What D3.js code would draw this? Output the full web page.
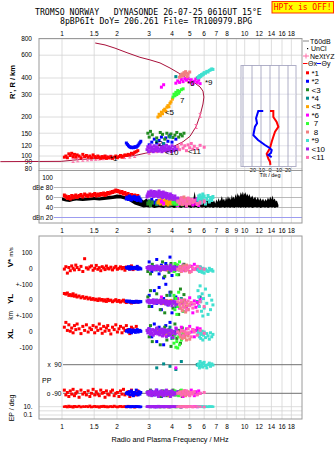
<!DOCTYPE html>
<html>
<head>
<meta charset="utf-8">
<script src="https://cdn.jsdelivr.net/npm/d3@7"></script>
<style>
  body { margin: 0; background: #fff; }
  text { font-family: "Liberation Sans", Arial, sans-serif; }
  .mono { font-family: "DejaVu Sans Mono", monospace; white-space: pre; }
</style>
</head>
<body>
<svg id="viz" width="335" height="451"></svg>
<script>
const freqGrid = [1, 1.5, 2, 3, 4, 5, 6, 7, 8, 9, 10, 12, 14, 16, 18];
const freqLabelsTop = [1, 1.5, 2, 3, 4, 5, 6, 7, 8, 10, 12, 14, 16, 18];
const freqLabelsMid = [1, 1.5, 2, 3, 4, 5, 6, 7, 8, 9, 10, 12, 14, 16, 18];
const heightTicks = [80, 90, 100, 120, 150, 200, 300, 400, 600, 800];
const dbTicks = [40, 60, 80, 100];
const dbTickText = ["40", "60", "dBe 80", "100"];
const tiltTicks = [-20, -10, 0, 10, 20];
const tiltGrid = [-30, -20, -10, 0, 10, 20];

// legende
const legNames = ["*1", "*2", "<3", "*4", "<5", "*6", " 7", " 8", "*9", "<10", "<11"];
const legColors = ["#ff0000", "#0000ff", "#228b22", "#008b8b", "#ffa500", "#ff00ff",
                   "#33ff33", "#f08080", "#40e0d0", "#a020f0", "#ff69b4"];

// *1 rouge
const s1F = [1.03,1.05,1.07,1.09,1.11,1.13,1.15,1.17,1.19,1.21,1.24,1.27,1.30,1.33,1.36,1.39,1.42,1.45,1.48,1.51,1.54,1.57,1.60,1.63,1.66,1.69,1.72,1.75,1.78,1.81,1.85,1.89,1.93,1.97,2.01,2.05,2.09,2.13,2.17,2.21,2.25,2.30,2.35,2.40,2.45,2.50,2.55,2.60];
const s1H = [98,100,97,104,101,105,99,103,98,102,100,97,103,99,101,98,100,97,102,99,97,100,98,96,99,97,100,96,98,97,99,96,98,100,97,99,101,98,100,102,101,103,102,105,104,107,108,110];
const s1DB = [64,62,59,61,58,63,60,62,64,61,63,65,62,66,64,63,66,64,65,67,64,66,65,67,66,68,65,67,69,68,70,71,72,74,73,72,70,71,68,69,66,67,64,65,63,64,62,63];
const s1V = [-5,10,-30,5,-15,15,0,-10,20,5,-8,12,-20,60,3,-5,8,15,-12,0,18,-6,4,-15,10,2,-8,14,0,-4,7,-10,3,12,-6,0,9,-3,5,-12,8,0,-5,15,-8,4,-2,6];
const s1YL = [42,38,45,30,35,28,40,25,32,20,26,15,22,12,18,8,14,5,10,2,6,-2,8,0,4,-5,2,-8,5,-3,0,-10,-4,3,-8,-2,-12,-6,0,-10,-15,-8,-12,-18,-10,-14,-8,-12];
const s1XL = [30,60,10,45,5,25,-5,40,15,50,20,-10,35,10,45,0,25,15,40,-5,30,10,50,20,-8,35,5,25,40,10,-12,30,15,45,0,20,35,-5,25,10,40,15,-10,30,20,5,35,10];
const s1PP = [-70,-100,-85,-110,-75,-95,-65,-105,-90,-80,-115,-70,-95,-85,-100,-75,-110,-90,-65,-100,-80,-95,-105,-70,-90,-85,-115,-75,-95,-100,-80,-70,-105,-90,-85,-110,-75,-95,-65,-100,-90,-80,-110,-70,-95,-85,-100,-75];
const s1EP = [10,12,8,15,9,11,7,13,10,9,14,8,11,10,12,9,16,8,10,13,9,11,7,12,10,14,9,11,8,10,12,9,15,10,8,11,13,9,10,12,8,14,10,9,11,7,12,10];

// *2 bleu
const s2F = [2.25,2.28,2.31,2.34,2.37,2.40,2.43,2.46,2.49,2.52,2.55,2.58,2.61,2.64,2.67,2.70,3.0,3.1,3.2,3.3,3.4,3.5,3.6,3.7,3.8,3.9,4.0,4.2];
const s2H = [126,123,120,118,117,116,117,116,117,118,117,119,121,124,127,130,122,128,135,126,132,140,124,138,130,145,128,135];
const s2DB = [58,60,57,62,59,56,60,58,61,57,59,55,58,60,56,54,52,55,50,53,48,56,51,54,49,52,50,47];
const s2V = [5,0,10,-5,8,2,-3,6,0,4,-2,12,-6,3,0,-4,40,-20,10,55,-35,20,-60,30,-10,70,-45,15];
const s2YL = [-5,-8,-10,-6,-12,-8,-10,-14,-9,-12,-7,-10,-13,-8,-11,-9,30,-40,60,-20,80,-60,10,100,-30,50,-80,20];
const s2XL = [5,10,0,15,8,-5,12,3,10,-2,8,15,0,6,10,4,20,-30,50,-60,30,10,-80,40,-20,60,-40,0];
const s2PP = [-90,-85,-95,-80,-100,-75,-90,-105,-85,-95,-70,-90,-100,-80,-95,-85,-90,-80,-100,-70,-95,-110,-85,-75,-90,-105,-80,-95];
const s2EP = [10,9,11,10,8,12,10,9,11,10,12,9,10,11,8,10,10,9,12,8,11,10,9,13,10,8,11,10];

// <3 vert fonce
const s3F = [2.95,3.0,3.05,3.12,3.3,3.45,3.55,3.65,3.75,3.85,3.95,4.05,4.15,4.25,4.35,4.45,4.55,4.65];
const s3H = [150,140,155,146,138,152,147,135,150,142,148,139,145,152,140,147,143,150];
const s3DB = [48,52,45,50,47,53,49,46,51,48,54,47,50,45,49,52,46,50];
const s3V = [-20,10,-35,25,5,-10,40,-50,15,-25,30,0,-15,20,-40,10,-5,25];
const s3YL = [20,-40,60,-10,40,-60,0,-80,30,-20,50,-50,10,-30,-90,70,-15,35];
const s3XL = [10,-30,40,-60,20,-80,0,30,-50,15,-90,-20,50,-40,10,-70,25,-10];
const s3PP = [-80,-100,-70,-95,-85,-110,-75,-90,-105,-80,-95,-70,-100,-85,-90,-75,-110,-95];
const s3EP = [10,11,9,12,10,8,11,10,13,9,10,12,9,11,10,8,10,12];

// *4 sarcelle
const s4F = [3.3,3.6,3.9,4.2,4.5,5.5,5.7];
const s4H = [130,125,140,410,420,400,415];
const s4DB = [48,50,46,52,49,55,53];
const s4V = [-10,5,-15,10,0,-5,8];
const s4YL = [0,-20,30,-40,10,-10,20];
const s4XL = [20,-10,30,0,-20,10,-5];
const s4PP = [70,95,80,60,110,90,85];
const s4EP = [10,9,11,10,8,10,11];

// <5 orange
const s5F = [3.35,3.4,3.45,3.5,3.55,3.6,3.65,3.7,3.75,3.8,3.85,3.9,3.95,4.02];
const s5H = [200,210,205,218,212,225,230,222,238,245,240,255,262,275];
const s5DB = [50,53,48,55,51,47,54,49,52,46,50,53,48,51];
const s5V = [5,-5,0,10,-8,3,-2,6,-10,4,0,-6,8,-3];
const s5YL = [-10,-5,-15,0,-20,-8,-12,-3,-18,-6,-10,-14,-2,-9];
const s5XL = [5,-10,0,12,-5,8,-15,3,10,-8,0,6,-12,4];
const s5PP = [-90,-85,-95,-80,-100,-90,-85,-95,-75,-90,-105,-85,-90,-95];
const s5EP = [10,9,11,10,12,9,10,11,10,8,10,11,9,10];

// *6 magenta
const s6F = [3.5,3.6,4.2,4.3,4.4,4.5,4.6,4.7,4.8,4.9,5.0,5.1,5.2,5.3,5.4,5.5,5.6,5.7];
const s6H = [340,355,365,380,370,390,375,395,385,400,372,388,360,378,392,370,385,362];
const s6DB = [52,48,55,45,50,58,47,53,44,56,49,51,46,54,48,57,45,50];
const s6V = [0,10,-5,15,-10,5,20,-15,0,8,-20,12,-6,25,-3,10,-12,5];
const s6YL = [20,-10,-30,10,-50,-20,-70,0,-40,-60,15,-25,-80,-5,-45,-15,-35,5];
const s6XL = [10,-20,25,0,-15,30,5,-25,20,-10,35,0,15,-30,10,25,-5,20];
const s6PP = [-80,-95,70,-100,-85,-90,-110,-75,-95,-85,-100,-70,-90,-105,-80,-95,-75,-90];
const s6EP = [10,11,9,10,12,8,10,11,9,10,12,10,9,11,10,8,11,10];

// 7 vert clair
const s7F = [4.05,4.1,4.15,4.2,4.25,4.3,4.35,4.4,4.5,4.6];
const s7H = [285,300,292,310,298,320,305,315,325,330];
const s7DB = [50,54,48,56,52,47,55,50,53,49];
const s7V = [10,-20,30,0,-40,20,-10,40,-5,15];
const s7YL = [-20,30,-60,10,-90,-40,50,-30,0,-70];
const s7XL = [-40,-70,-20,-95,-60,-100,-30,-80,-50,-10];
const s7PP = [-85,-95,-75,-100,-90,-80,-105,-90,-70,-95];
const s7EP = [10,9,11,10,8,10,12,9,10,11];

// 8 saumon
const s8F = [4.4,4.45,4.5,4.55,4.6,4.65,4.7,4.75,4.8,4.85,4.9,5.0];
const s8H = [405,420,412,430,418,440,425,448,435,410,428,445];
const s8DB = [55,50,58,47,53,60,49,56,45,52,57,48];
const s8V = [-10,5,-20,10,-5,15,0,-15,20,-8,3,-25];
const s8YL = [-20,-50,-10,-65,-30,0,-45,-75,-15,-35,-60,-25];
const s8XL = [-10,-30,5,-40,-20,0,-35,-15,-50,-5,-25,-45];
const s8PP = [-90,-80,-100,-85,-95,-75,-90,-105,-85,-95,-80,-90];
const s8EP = [10,9,11,10,12,9,10,11,8,10,12,10];

// *9 turquoise
const s9F = [5.55,5.6,5.65,5.7,5.75,5.8,5.85,5.9,5.95,6.0,6.1,6.2,6.3,6.4,6.5,6.6,6.7];
const s9H = [400,410,405,418,412,425,420,430,428,440,436,450,445,458,462,470,466];
const s9DB = [56,62,52,64,58,50,60,66,54,62,48,57,63,52,59,55,61];
const s9V = [-10,0,-20,5,-15,-5,-25,0,-10,-30,-5,-15,-20,0,-12,-8,-18];
const s9YL = [60,20,-40,90,-10,-70,40,-100,10,-50,70,-20,-90,30,-60,0,-30];
const s9XL = [-10,0,-30,-5,-40,-15,5,-50,-20,0,-35,-10,-25,-45,-5,-30,-15];
const s9PP = [85,95,70,110,90,80,100,75,95,105,85,70,90,100,80,95,88];
const s9EP = [10,11,9,10,12,10,9,11,10,8,11,10,9,12,10,11,10];

// <10 violet
const s10F = [2.92,2.95,2.98,3.01,3.04,3.07,3.10,3.13,3.16,3.19,3.22,3.25,3.28,3.31,3.34,3.37,3.40,3.43,3.46,3.49,3.52,3.55,3.58,3.61,3.64,3.67,3.70,3.73,3.76,3.80,3.84,3.88,3.92,3.96,4.00,4.05,4.10,4.15,4.22,4.30];
const s10H = [112,118,108,115,121,110,117,113,108,120,114,110,118,112,116,109,122,113,111,117,108,115,119,112,110,116,113,121,109,114,118,111,115,108,120,113,110,117,112,115];
const s10DB = [62,66,70,64,68,72,65,69,63,71,67,64,70,66,68,62,72,65,69,64,67,61,70,66,63,68,65,60,67,62,64,58,66,61,63,57,60,62,56,58];
const s10V = [5,-3,10,0,-8,12,3,-5,8,-10,2,6,-4,15,0,-7,9,4,-12,6,1,-6,10,-2,5,-9,3,12,-4,0,8,-5,20,-15,6,-3,10,-8,2,5];
const s10YL = [-5,-12,0,-18,-8,-3,-15,-10,2,-20,-6,-12,-1,-16,-9,-4,-14,-11,0,-22,-7,-13,-2,-17,-8,-10,-25,-5,-12,-15,-30,-8,-20,-12,-35,-6,-18,-10,-25,-14];
const s10XL = [10,-5,20,0,-15,8,-8,15,-20,5,-10,12,-3,25,-12,0,10,-18,6,-6,18,-25,3,-10,14,-4,8,-30,0,12,-15,5,-20,10,-8,-35,4,-12,20,-5];
const s10PP = [-85,-95,-80,-100,-90,-75,-105,-85,-95,-90,-80,-100,-70,-95,-85,-110,-90,-80,-95,-75,-100,-85,-90,-105,-80,-95,-90,-70,-100,-85,-95,-80,-110,-90,-75,-100,-85,-95,-90,-80];
const s10EP = [10,12,9,11,8,10,13,9,11,10,7,12,10,9,11,14,10,8,12,10,9,11,10,13,8,10,12,9,11,10,8,12,10,9,11,10,13,9,10,11];

// <11 rose
const s11F = [4.3,4.4,4.5,4.6,4.7,4.8,4.9,5.0,5.1,5.2,5.3,5.5,5.7,6.0];
const s11H = [118,112,124,115,120,110,122,116,125,113,119,114,121,117];
const s11DB = [52,48,56,50,54,46,58,49,55,51,53,47,50,52];
const s11V = [-5,10,-15,0,8,-10,5,15,-20,3,-8,12,0,-5];
const s11YL = [-10,-30,0,-45,-20,-60,-5,-35,-15,-50,-25,-70,-10,-40];
const s11XL = [0,-15,10,-25,5,-10,20,-5,-30,15,0,-20,10,-8];
const s11PP = [-90,-85,-100,-80,-95,-75,-90,-105,-85,-95,-80,-100,-90,-85];
const s11EP = [10,11,9,10,12,10,9,11,10,8,10,11,10,9];

// profil N(h) (rouge fonce)
const profF = [0.46,0.99,1.25,1.61,2.08,2.51,2.85,3.23,3.66,4.15,4.60,5.02,5.42,5.70,5.91,5.98,5.91,5.70,5.35,4.90,4.42,3.90,3.44,3.03,2.67,2.27,1.95,1.72,1.52];
const profH = [90.5,91,94,96,98,101,105,109,113,120,129,142,169,206,252,285,317,341,365,394,431,478,523,552,578,627,680,720,745];

// points NeXtYZ (rose)
const nexF = [1.15,1.22,1.30,1.38,1.45,1.53,1.60,1.68,1.76,1.85,2.2,2.35,2.5,3.0,3.3,3.6,5.42,5.7];
const nexH = [92.5,93.5,94.5,95,95.5,96,96.5,97,97.5,98,99,100,101,107,110,112,169,206];

// etiquettes noires
const tagText = ["*1", "*2", "<5", "7", "*6", "*9", "<10", "<11"];
const tagF = [1.83, 3.23, 3.66, 4.42, 4.83, 6.06, 3.66, 4.89];
const tagH = [96.6, 125, 220, 270, 364, 372, 108, 110];

// bruit dB (noir)
const noiseF = [1.0,1.05,1.1,1.15,1.2,1.3,1.4,1.5,1.6,1.7,1.8,1.9,2.0,2.1,2.2,2.3,2.4,2.5,2.6,2.7,2.8,2.9,3.0,3.1,3.2,3.3,3.4,3.5,3.6,3.7,3.8,3.9,4.0,4.1,4.2,4.3,4.4,4.5,4.6,4.7,4.8,4.9,5.0,5.1,5.2,5.25,5.32,5.4,5.5,5.6,5.7,5.8,5.9,6.0,6.1,6.2,6.3,6.4,6.5,6.6,6.7,6.8,6.9,7.0,7.1,7.2,7.3,7.4,7.5,7.6,7.7,7.8,7.9,8.0,8.1,8.2,8.3,8.4,8.5,8.6,8.7,8.8,8.9,9.0,9.1,9.2,9.3,9.4,9.5,9.6,9.7,9.8,9.9,10.0,10.1,10.2,10.3,10.5,10.6,10.8,11.0,11.2,11.4,11.6,11.8,12.0,12.2,12.4,12.6,12.8,13.0,13.2,13.4,13.6,13.8,14.0,14.2,14.4,14.6,14.8,15.0,15.2,15.3];
const noiseHi = [60,58,57,59,58,60,59,61,60,62,63,64,66,65,63,62,60,58,60,57,54,58,52,56,50,55,51,57,49,56,52,55,50,57,51,54,49,56,50,55,52,57,52,56,50,60,72,57,52,58,51,60,53,57,50,58,52,55,49,57,51,54,48,56,51,59,52,56,63,54,58,52,61,55,63,57,60,55,65,58,62,57,67,60,69,63,66,61,71,65,72,64,70,66,71,63,68,62,67,59,64,57,62,55,61,54,59,53,58,52,57,53,60,55,62,56,64,55,58,52,54,48,45];
const noiseLo = [54,52,51,53,54,53,54,55,54,55,56,57,58,58,56,54,50,46,44,42,40,41,40,41,39,40,41,40,39,41,40,40,41,39,40,41,40,39,41,40,40,41,40,39,41,40,40,41,40,39,41,40,40,41,39,40,41,40,40,41,39,40,41,40,40,41,39,40,40,41,40,39,41,40,40,41,39,40,41,40,40,39,41,40,41,40,40,41,39,40,41,40,40,41,39,40,41,40,40,41,39,40,41,40,40,41,39,40,41,40,40,41,39,40,41,40,40,41,39,40,41,40,42];

// inclinaison (Tilt) : theta x rouge, theta y bleu
const tiltXH = [222.6,222.6,200,183,168,154,141,129,115,104,95.5,90.5,85.3];
const tiltXA = [0,3.7,3.7,7.4,9.3,5.6,3.7,1.9,0,-3.7,-1.9,0,0.5];
const tiltYH = [222.6,222.6,195.6,179,168.4,154,145,133,121.6,114.8,111.3,105.5,101.9,98.1];
const tiltYA = [-7.5,-13,-15.5,-14.4,-16.7,-17.8,-18.5,-13.3,-5.6,0,1.9,1.1,-1.9,1.9];

/////////////////////////////////////////////////////////

const clusters = [
  {f: s1F, h: s1H, db: s1DB, v: s1V, yl: s1YL, xl: s1XL, pp: s1PP, ep: s1EP},
  {f: s2F, h: s2H, db: s2DB, v: s2V, yl: s2YL, xl: s2XL, pp: s2PP, ep: s2EP},
  {f: s3F, h: s3H, db: s3DB, v: s3V, yl: s3YL, xl: s3XL, pp: s3PP, ep: s3EP},
  {f: s4F, h: s4H, db: s4DB, v: s4V, yl: s4YL, xl: s4XL, pp: s4PP, ep: s4EP},
  {f: s5F, h: s5H, db: s5DB, v: s5V, yl: s5YL, xl: s5XL, pp: s5PP, ep: s5EP},
  {f: s6F, h: s6H, db: s6DB, v: s6V, yl: s6YL, xl: s6XL, pp: s6PP, ep: s6EP},
  {f: s7F, h: s7H, db: s7DB, v: s7V, yl: s7YL, xl: s7XL, pp: s7PP, ep: s7EP},
  {f: s8F, h: s8H, db: s8DB, v: s8V, yl: s8YL, xl: s8XL, pp: s8PP, ep: s8EP},
  {f: s9F, h: s9H, db: s9DB, v: s9V, yl: s9YL, xl: s9XL, pp: s9PP, ep: s9EP},
  {f: s10F, h: s10H, db: s10DB, v: s10V, yl: s10YL, xl: s10XL, pp: s10PP, ep: s10EP},
  {f: s11F, h: s11H, db: s11DB, v: s11V, yl: s11YL, xl: s11XL, pp: s11PP, ep: s11EP}
];
clusters.forEach((c, i) => c.color = legColors[i]);

// cadres des panneaux
const L = 39, R = 302;
const ion = {top: 38.5, bottom: 170.5};
const dbp = {top: 170.5, bottom: 223};
const low = {top: 236, bottom: 419};

// echelles
const x = d3.scaleLog().domain([1, 10]).range([62, 244.7]);
const yH = d3.scaleLog().domain([80, 800]).range([168.6, 39]);
const yDB = d3.scaleLinear().domain([20, 100]).range([217.5, 177.5]);
const yV = d3.scaleLinear().domain([-100, 100]).range([284.3, 252.3]);
const yYL = d3.scaleLinear().domain([-100, 100]).range([316, 284.3]);
const yXL = d3.scaleLinear().domain([-100, 100]).range([348, 316]);
const yPP = d3.scaleLinear().domain([-90, 90]).range([393.3, 364.7]);
const yEP = d3.scaleLog().domain([0.1, 10]).range([415, 406.7]);
const xT = d3.scaleLinear().domain([-10, 10]).range([261, 279]);

const svg = d3.select("#viz");
const gridCol = "#d4d4d4", frameCol = "#9a9a9a";

// ---- titre ----
svg.append("text").attr("class", "mono").attr("x", 35).attr("y", 15)
  .style("font-size", "8.2px").text("TROMSO NORWAY   DYNASONDE 26-07-25 0616UT 15°E");
svg.append("text").attr("class", "mono").attr("x", 60).attr("y", 23.5)
  .style("font-size", "8.2px").text("8pBP6It DoY= 206.261 File= TR100979.BPG");
svg.append("rect").attr("x", 272).attr("y", 1.5).attr("width", 61.5).attr("height", 11.5)
  .attr("fill", "#ffff00").attr("stroke", "#ff3300").attr("stroke-width", 1);
svg.append("text").attr("class", "mono").attr("x", 302.7).attr("y", 10.3)
  .attr("text-anchor", "middle").attr("fill", "#ff0000").style("font-size", "8px")
  .text("HPTx is OFF!");

// ---- grilles verticales ----
[ion, dbp, low].forEach(p => {
  svg.append("g").selectAll("line").data(freqGrid).join("line")
    .attr("x1", d => x(d)).attr("x2", d => x(d))
    .attr("y1", p.top).attr("y2", p.bottom)
    .attr("stroke", gridCol).attr("stroke-width", 0.8);
});

// labels de frequence
function freqLabels(list, y) {
  svg.append("g").selectAll("text").data(list).join("text")
    .attr("x", d => x(d)).attr("y", y).attr("text-anchor", "middle")
    .style("font-size", "6.5px").text(d => d);
}
freqLabels(freqLabelsTop, 35.5);
freqLabels(freqLabelsMid, 233.3);
freqLabels(freqLabelsTop, 429.3);

svg.append("text").attr("x", 170).attr("y", 442).attr("text-anchor", "middle")
  .style("font-size", "7.3px").text("Radio and Plasma Frequency / MHz");

// ---- ionogramme ----
svg.append("g").selectAll("line").data(heightTicks).join("line")
  .attr("x1", L).attr("x2", R).attr("y1", d => yH(d)).attr("y2", d => yH(d))
  .attr("stroke", gridCol).attr("stroke-width", 0.8);
svg.append("g").selectAll("text").data(heightTicks).join("text")
  .attr("x", 32).attr("y", d => yH(d) + 2.3).attr("text-anchor", "end")
  .style("font-size", "6.5px").text(d => d);
svg.append("text").attr("transform", "translate(15,82) rotate(-90)")
  .attr("text-anchor", "middle").style("font-size", "7.5px").style("font-weight", "bold")
  .text("R', R / km");

// encart Tilt
const tiltTop = 65.5, tiltBot = 166.5;
svg.append("rect").attr("x", 241).attr("y", tiltTop).attr("width", 55).attr("height", tiltBot - tiltTop)
  .attr("fill", "#fff").attr("stroke", "#b0b0c8").attr("stroke-width", 1);
svg.append("g").selectAll("line").data(heightTicks.filter(h => yH(h) > tiltTop && yH(h) < tiltBot)).join("line")
  .attr("x1", 241).attr("x2", 296).attr("y1", d => yH(d)).attr("y2", d => yH(d))
  .attr("stroke", "#dcdce6").attr("stroke-width", 0.8);
svg.append("g").selectAll("line").data(tiltGrid).join("line")
  .attr("x1", d => xT(d)).attr("x2", d => xT(d)).attr("y1", tiltTop).attr("y2", tiltBot)
  .attr("stroke", "#9a9ab8").attr("stroke-width", 0.8);
svg.append("g").selectAll("text").data(tiltTicks).join("text")
  .attr("x", d => xT(d)).attr("y", 171.5).attr("text-anchor", "middle")
  .style("font-size", "5.5px").text(d => d);
svg.append("text").attr("x", 270).attr("y", 177).attr("text-anchor", "middle")
  .style("font-size", "5.5px").text("Tilt / deg");

const tiltLine = d3.line().x(d => xT(d[1])).y(d => yH(d[0]));
svg.append("path").datum(d3.zip(tiltXH, tiltXA)).attr("d", tiltLine)
  .attr("fill", "none").attr("stroke", "#ff0000").attr("stroke-width", 2);
svg.append("path").datum(d3.zip(tiltYH, tiltYA)).attr("d", tiltLine)
  .attr("fill", "none").attr("stroke", "#0000ff").attr("stroke-width", 2);

// profil
const profLine = d3.line().x(d => x(d[0])).y(d => yH(d[1]));
svg.append("path").datum(d3.zip(profF, profH)).attr("d", profLine)
  .attr("fill", "none").attr("stroke", "#a8103a").attr("stroke-width", 1);

// NeXtYZ
svg.append("g").selectAll("path").data(d3.zip(nexF, nexH)).join("path")
  .attr("d", d => { const px = x(d[0]), py = yH(d[1]);
    return `M${px - 1.5},${py - 2}H${px + 1.5}M${px},${py - 2}V${py + 2}M${px - 1.5},${py + 2}H${px + 1.5}`; })
  .attr("stroke", "#ff6fa8").attr("stroke-width", 1).attr("fill", "none");

// echos
function squares(key, yScale, w, h) {
  clusters.forEach(c => {
    svg.append("g").selectAll("rect").data(d3.zip(c.f, c[key])).join("rect")
      .attr("x", d => x(d[0]) - w / 2).attr("y", d => yScale(d[1]) - h / 2)
      .attr("width", w).attr("height", h).attr("fill", c.color);
  });
}
squares("h", yH, 3, 3);

svg.append("g").selectAll("text").data(d3.range(tagText.length)).join("text")
  .attr("x", i => x(tagF[i])).attr("y", i => yH(tagH[i]) + 3)
  .style("font-size", "8px").attr("fill", "#000").text(i => tagText[i]);

svg.append("rect").attr("x", L).attr("y", ion.top).attr("width", R - L).attr("height", ion.bottom - ion.top)
  .attr("fill", "none").attr("stroke", frameCol).attr("stroke-width", 1);

// ---- panneau dB ----
svg.append("g").selectAll("line").data(dbTicks.filter(d => d < 100)).join("line")
  .attr("x1", 54).attr("x2", R).attr("y1", d => yDB(d)).attr("y2", d => yDB(d))
  .attr("stroke", "#a8a8a8").attr("stroke-width", 0.8);
svg.append("line").attr("x1", 54).attr("x2", R).attr("y1", yDB(20)).attr("y2", yDB(20))
  .attr("stroke", "#9c9cf0").attr("stroke-width", 1);
svg.append("g").selectAll("text").data(dbTicks).join("text")
  .attr("x", 53).attr("y", d => yDB(d) + 2.3).attr("text-anchor", "end")
  .style("font-size", "6.5px").style("white-space", "pre")
  .text((d, i) => dbTickText[i]);
svg.append("text").attr("x", 53).attr("y", yDB(20) + 2.3).attr("text-anchor", "end")
  .style("font-size", "6.5px").text("dBn 20");

const noiseArea = d3.area().x(d => x(d[0])).y0(d => yDB(d[2])).y1(d => yDB(d[1]));
svg.append("path").datum(d3.zip(noiseF, noiseHi, noiseLo)).attr("d", noiseArea)
  .attr("fill", "#000");
squares("db", yDB, 3, 4);

svg.append("rect").attr("x", L).attr("y", dbp.top).attr("width", R - L).attr("height", dbp.bottom - dbp.top)
  .attr("fill", "none").attr("stroke", frameCol).attr("stroke-width", 1);

// ---- panneau bas ----
svg.append("line").attr("x1", 63).attr("x2", R).attr("y1", yPP(90)).attr("y2", yPP(90))
  .attr("stroke", "#707070").attr("stroke-width", 1);
svg.append("line").attr("x1", 63).attr("x2", R).attr("y1", yPP(-90)).attr("y2", yPP(-90))
  .attr("stroke", "#707070").attr("stroke-width", 1);
svg.append("g").selectAll("line").data([10, 1, 0.1]).join("line")
  .attr("x1", L).attr("x2", R).attr("y1", d => yEP(d)).attr("y2", d => yEP(d))
  .attr("stroke", gridCol).attr("stroke-width", 0.8);

const lowLabels = [[yV(100), "100"], [yV(0), "0"], [yV(-100), "+-100"], [yYL(0), "0"],
                   [yYL(-100), "+-100"], [yXL(0), "0"], [yXL(-100), "-100"],
                   [yEP(10), "10."], [yEP(0.1), "0.1"]];
svg.append("g").selectAll("text").data(lowLabels).join("text")
  .attr("x", 32.5).attr("y", d => d[0] + 2.3).attr("text-anchor", "end")
  .style("font-size", "6.5px").text(d => d[1]);
svg.append("text").attr("x", 61.5).attr("y", yPP(90) + 2.3).attr("text-anchor", "end")
  .style("font-size", "6.5px").style("white-space", "pre").text("x  90");
svg.append("text").attr("x", 61.5).attr("y", yPP(-90) + 2.3).attr("text-anchor", "end")
  .style("font-size", "6.5px").text("o -90");
svg.append("text").attr("x", 42).attr("y", 382.5).style("font-size", "7px").text("PP");

function vlabel(txt, cx, cy, size, bold) {
  svg.append("text").attr("transform", `translate(${cx},${cy}) rotate(-90)`)
    .attr("text-anchor", "middle").style("font-size", size + "px")
    .style("font-weight", bold ? "bold" : "normal").text(txt);
}
vlabel("V*", 13, 263, 8, true);
vlabel("m/s", 12.5, 252, 6, false);
vlabel("YL", 13, 299, 8, true);
vlabel("km", 12.5, 315.5, 6.5, false);
vlabel("XL", 13, 334, 8, true);
vlabel("EP / deg", 14, 408, 7, false);

squares("v", yV, 3, 3);
squares("yl", yYL, 3, 3);
squares("xl", yXL, 3, 3);
squares("pp", yPP, 3, 3);
squares("ep", yEP, 3, 2.4);

svg.append("rect").attr("x", L).attr("y", low.top).attr("width", R - L).attr("height", low.bottom - low.top)
  .attr("fill", "none").attr("stroke", frameCol).attr("stroke-width", 1);

// ---- legende ----
const lg = svg.append("g");
lg.append("line").attr("x1", 303).attr("x2", 309).attr("y1", 41).attr("y2", 41).attr("stroke", "#888");
lg.append("text").attr("x", 310).attr("y", 43.5).style("font-size", "7px").text("T60dB");
lg.append("rect").attr("x", 307).attr("y", 48).attr("width", 1.2).attr("height", 1.2).attr("fill", "#000");
lg.append("text").attr("x", 311).attr("y", 50.5).style("font-size", "7px").text("UnCl");
lg.append("path").attr("d", "M303,56H309M306,53.5V58.5").attr("stroke", "#ff6fa8").attr("fill", "none");
lg.append("text").attr("x", 310).attr("y", 58.5).style("font-size", "7px").text("NeXtYZ");
lg.append("line").attr("x1", 303).attr("x2", 307.5).attr("y1", 63.5).attr("y2", 63.5).attr("stroke", "#ff0000");
lg.append("text").attr("x", 308).attr("y", 66).style("font-size", "7px").text("Θx");
lg.append("line").attr("x1", 316.5).attr("x2", 321).attr("y1", 63.5).attr("y2", 63.5).attr("stroke", "#0000ff");
lg.append("text").attr("x", 321.5).attr("y", 66).style("font-size", "7px").text("Θy");

lg.selectAll("rect.sw").data(legNames).join("rect").attr("class", "sw")
  .attr("x", 306).attr("y", (d, i) => 71.3 + i * 8.46).attr("width", 3).attr("height", 3)
  .attr("fill", (d, i) => legColors[i]);
lg.selectAll("text.nm").data(legNames).join("text").attr("class", "nm")
  .attr("x", 311.5).attr("y", (d, i) => 75.6 + i * 8.46)
  .style("font-size", "8px").style("white-space", "pre").text(d => d);
</script>
</body>
</html>
